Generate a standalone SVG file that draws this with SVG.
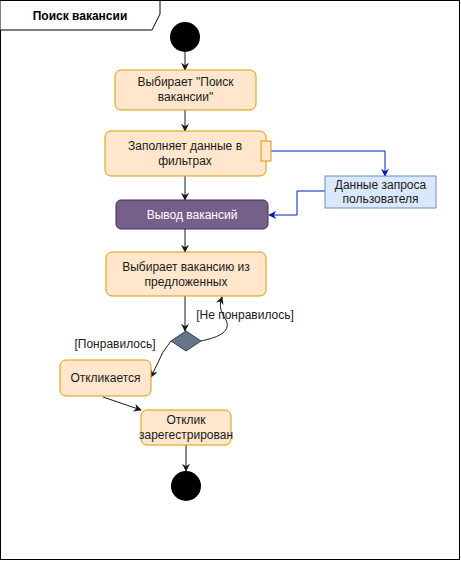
<svg xmlns="http://www.w3.org/2000/svg" width="461" height="561" viewBox="0 0 461 561">
<defs>
<style>
text{font-family:"Liberation Sans",Arial,sans-serif;font-size:12px;fill:#1a1a1a;text-anchor:middle}
.act{fill:#ffe6cc;stroke:#d79b00;stroke-width:1}
.ln{fill:none;stroke:#1a1a1a;stroke-width:1}
.bl{fill:none;stroke:#001dbc;stroke-width:1}
</style>
<marker id="ak" viewBox="0 0 10 10" refX="9" refY="5" markerWidth="8" markerHeight="8" markerUnits="userSpaceOnUse" orient="auto"><path d="M0,0 L10,5 L0,10 L3,5 Z" fill="#1a1a1a"/></marker>
<marker id="ab" viewBox="0 0 10 10" refX="9" refY="5" markerWidth="8" markerHeight="8" markerUnits="userSpaceOnUse" orient="auto"><path d="M0,0 L10,5 L0,10 L3,5 Z" fill="#001dbc"/></marker>
</defs>
<rect width="461" height="561" fill="#ffffff"/>
<g id="frame">
<rect x="0.5" y="0.5" width="459" height="559" fill="none" stroke="#000" stroke-width="1"/>
<path d="M0.5,0.5 H160 V14 L152,30 H0.5" fill="#fff" stroke="#000" stroke-width="1"/>
<text x="80" y="20" style="font-weight:bold;fill:#000">Поиск вакансии</text>
</g>
<g id="connectors">
<line class="ln" x1="185" y1="52" x2="185" y2="70" marker-end="url(#ak)"/>
<line class="ln" x1="185" y1="110" x2="185" y2="131" marker-end="url(#ak)"/>
<line class="ln" x1="185" y1="176" x2="185" y2="200" marker-end="url(#ak)"/>
<line class="ln" x1="185" y1="229" x2="185" y2="252" marker-end="url(#ak)"/>
<line class="ln" x1="185" y1="296" x2="185" y2="331" marker-end="url(#ak)"/>
<path class="ln" d="M201,341 C215,338 232,333 226,320 C220,310 219,306 222,297" marker-end="url(#ak)"/>
<path class="ln" d="M171,341 L163,352 L151,377" marker-end="url(#ak)"/>
<line class="ln" x1="103" y1="397" x2="141" y2="410" marker-end="url(#ak)"/>
<line class="ln" x1="186" y1="445" x2="186" y2="471" marker-end="url(#ak)"/>
<path class="bl" d="M271,151 H385 V176" marker-end="url(#ab)"/>
<path class="bl" d="M325,191 H297 V215 H269" marker-end="url(#ab)"/>
<text x="245" y="319">[Не понравилось]</text>
<text x="115" y="348">[Понравилось]</text>
</g>
<g id="start"><circle cx="185" cy="37" r="15" fill="#000"/></g>
<g id="n1"><rect class="act" x="115" y="70" width="141" height="40" rx="6"/>
<text x="185.5" y="86">Выбирает "Поиск</text><text x="185.5" y="101">вакансии"</text></g>
<g id="n2"><rect class="act" x="105" y="131" width="161" height="45" rx="6"/>
<rect class="act" x="261" y="141" width="10" height="20"/>
<text x="185" y="150">Заполняет данные в</text><text x="185" y="165">фильтрах</text></g>
<g id="data"><rect x="325" y="176" width="111" height="32" fill="#dae8fc" stroke="#6c8ebf"/>
<text x="380.5" y="189">Данные запроса</text><text x="380.5" y="203">пользователя</text></g>
<g id="n3"><rect x="116" y="200" width="152" height="29" rx="5" fill="#76608a" stroke="#432d57"/>
<text x="192" y="219" style="fill:#ffffff">Вывод вакансий</text></g>
<g id="n4"><rect class="act" x="106" y="252" width="160" height="44" rx="6"/>
<text x="186" y="271">Выбирает вакансию из</text><text x="186" y="286">предложенных</text></g>
<g id="decision"><path d="M186,331 L201,341 L186,351 L171,341 Z" fill="#647687" stroke="#314354"/></g>
<g id="n5"><rect class="act" x="60" y="360" width="91" height="36" rx="6"/>
<text x="105.5" y="382">Откликается</text></g>
<g id="n6"><rect class="act" x="141" y="410" width="90" height="35" rx="6"/>
<text x="186" y="424">Отклик</text><text x="186" y="439">зарегестрирован</text></g>
<g id="end"><circle cx="186" cy="486" r="15" fill="#000"/></g>
</svg>
